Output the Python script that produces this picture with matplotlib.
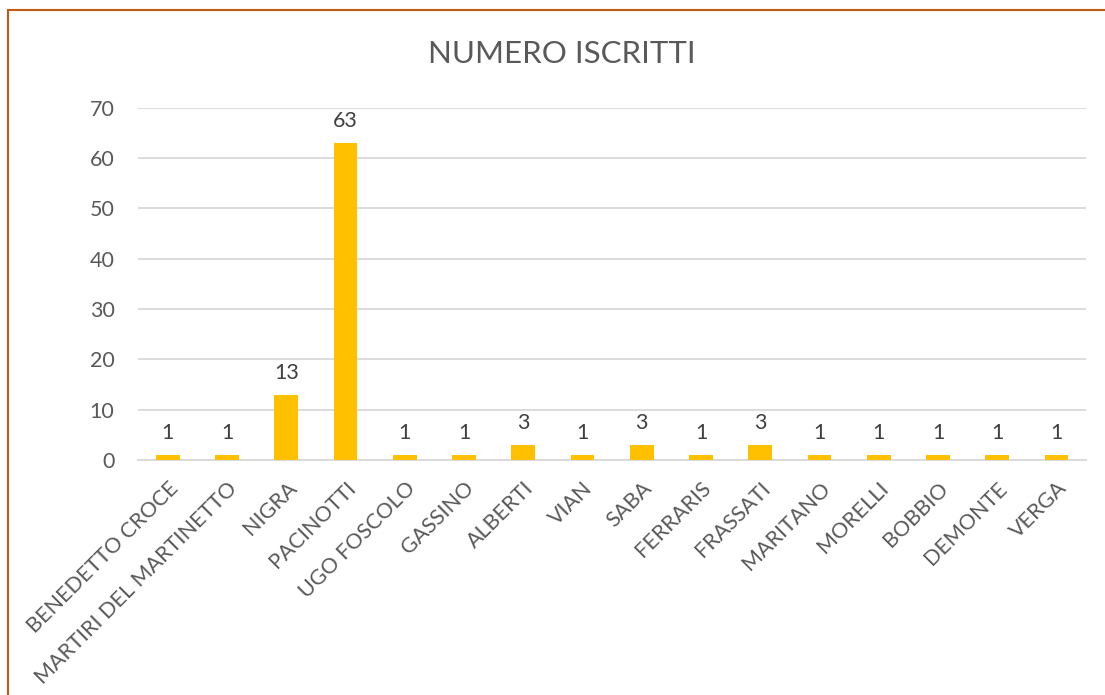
import matplotlib.pyplot as plt
from matplotlib.patches import Rectangle

scuole = ["BENEDETTO CROCE", "MARTIRI DEL MARTINETTO", "NIGRA", "PACINOTTI",
          "UGO FOSCOLO", "GASSINO", "ALBERTI", "VIAN", "SABA", "FERRARIS",
          "FRASSATI", "MARITANO", "MORELLI", "BOBBIO", "DEMONTE", "VERGA"]
iscritti = [1, 1, 13, 63, 1, 1, 3, 1, 3, 1, 3, 1, 1, 1, 1, 1]
yticks = [0, 10, 20, 30, 40, 50, 60, 70]

plt.rcParams['font.family'] = ['Lato', 'DejaVu Sans']

fig = plt.figure(figsize=(11.05, 6.95), dpi=100)
ax = fig.add_axes([0.125, 0.338, 0.858, 0.507])

x = range(len(scuole))
ax.bar(x, iscritti, width=0.4, color='#FFC000', zorder=3)
for xi, v in zip(x, iscritti):
    ax.annotate(str(v), (xi, v), xytext=(0, 8.5), textcoords='offset points',
                ha='center', va='bottom', fontsize=15.5, color='#404040')

ax.set_xlim(-0.5, len(scuole) - 0.5)
ax.set_ylim(0, 70)
ax.set_yticks(yticks)
ax.set_yticklabels([str(t) for t in yticks], fontsize=15.5, color='#595959')
ax.set_xticks(list(x))
ax.set_xticklabels(scuole, rotation=45, ha='right', va='top', rotation_mode='anchor',
                   fontsize=15.5, color='#595959')
ax.tick_params(length=0)
ax.tick_params(axis='y', pad=17)
ax.tick_params(axis='x', pad=13)
ax.grid(axis='y', color='#D9D9D9', linewidth=1.3, zorder=0)
for s in ['top', 'right', 'left']:
    ax.spines[s].set_visible(False)
ax.spines['bottom'].set_color('#D9D9D9')
ax.spines['bottom'].set_linewidth(1.3)

fig.text(0.508, 0.922, "NUMERO ISCRITTI", ha='center', va='center', fontsize=22.5, color='#595959')

border = Rectangle((8 / 1105, -0.1), 1.2, 0.1 + (1 - 10 / 695), transform=fig.transFigure,
                   fill=False, edgecolor='#C55A11', linewidth=1.5, clip_on=False)
fig.patches.append(border)

fig.savefig('out.png', dpi=100)
